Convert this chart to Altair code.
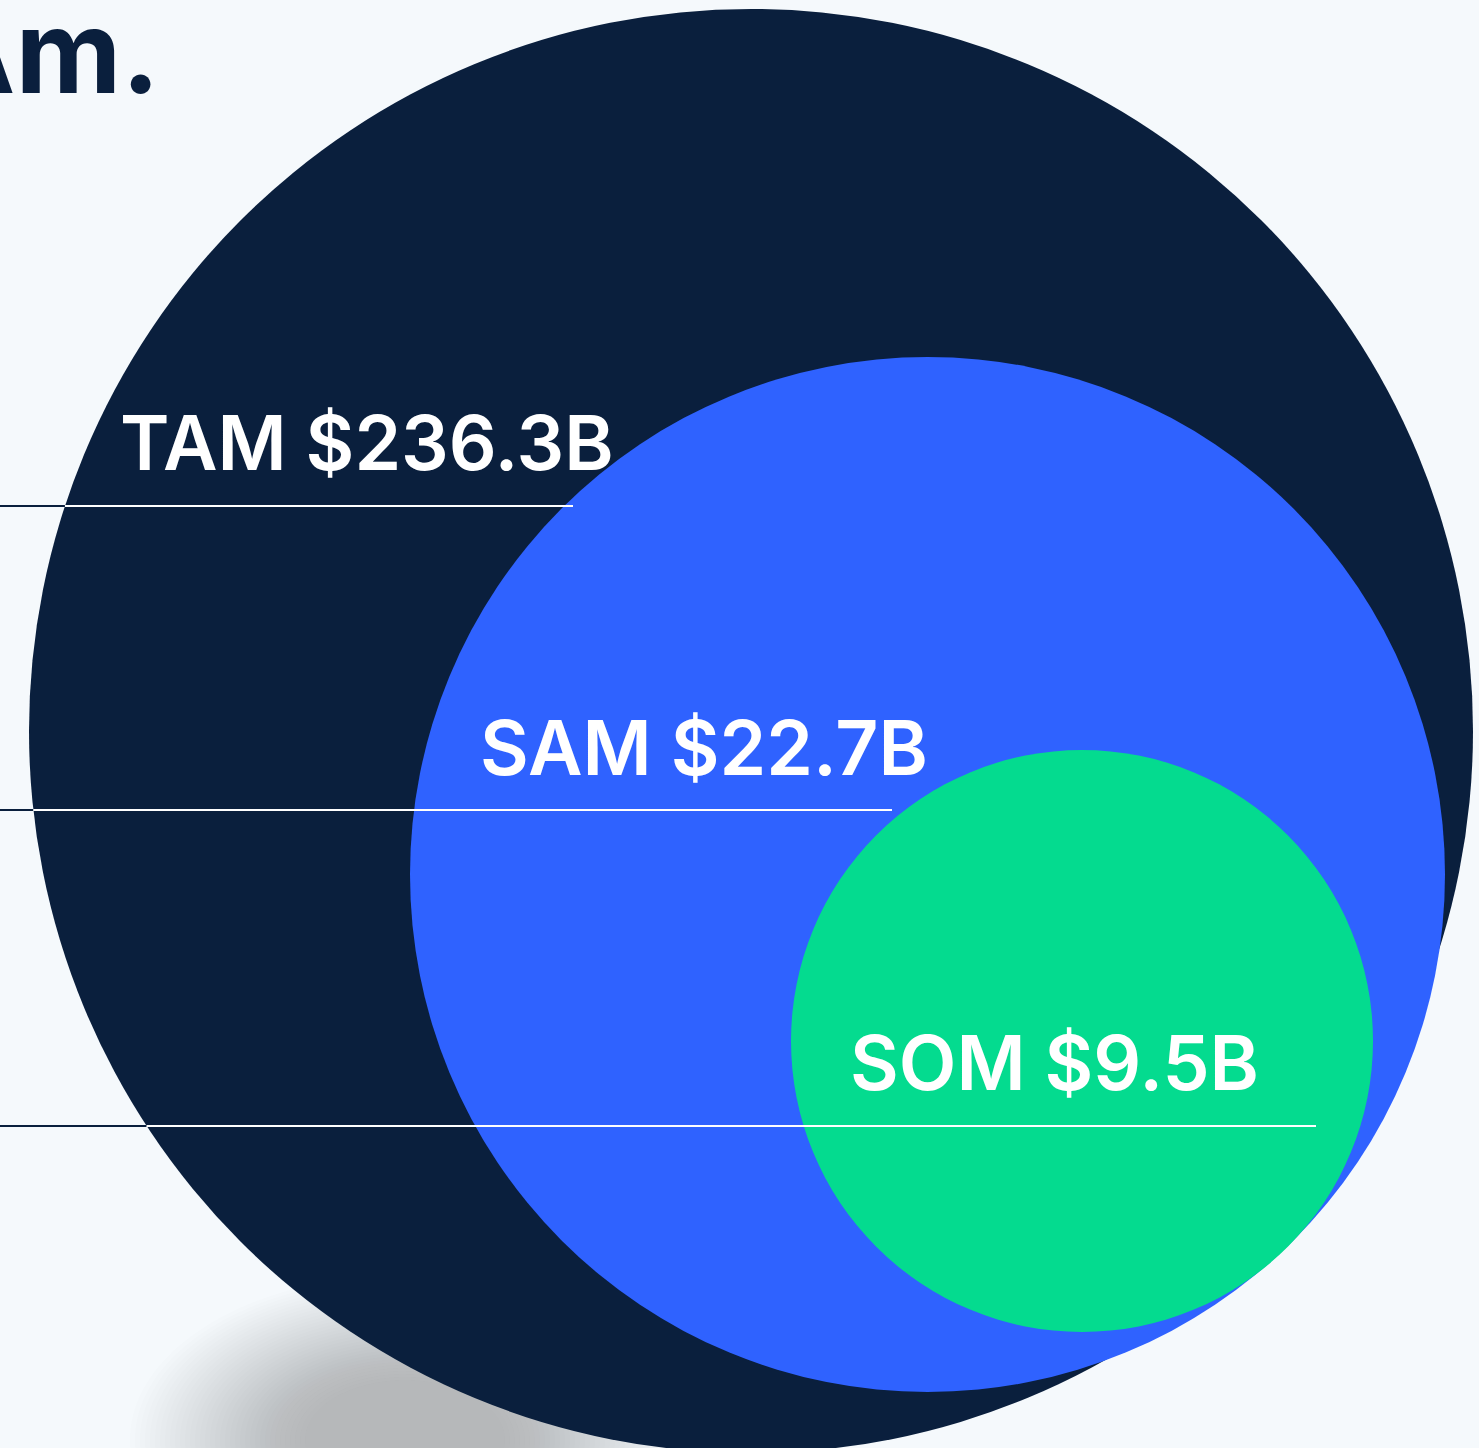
import math
import altair as alt
import pandas as pd

W, H = 1479, 1448

# Market segments
segments = ["TAM", "SAM", "SOM"]
values_b = [236.3, 22.7, 9.5]
colors = ["#0A1F3D", "#2F62FF", "#04DB8F"]

# Circle geometry (chart coordinates, pixels)
circle_cx = [751, 927.5, 1082]
circle_cy = [731, 874.5, 1041]
circle_r = [722, 517.5, 291]

# Labels and leader lines
label_x = [120, 480, 850]
label_y = [470, 775, 1090]
line_y = [506, 810, 1126]
line_end = [573, 892, 1316]

title_text = "Am."

bg = "#F5F9FC"
navy = "#0A1F3D"

xs = alt.Scale(domain=[0, W], nice=False, zero=False)
ys = alt.Scale(domain=[0, H], nice=False, zero=False, reverse=True)

# Vega circle symbol: diameter = sqrt(size)
circles = pd.DataFrame({
    "seg": segments,
    "cx": circle_cx,
    "cy": circle_cy,
    "area": [(2 * r) ** 2 for r in circle_r],
    "color": colors,
    "order": [0, 1, 2],
})

# soft elliptical shadow under the big circle
shadow_r = list(range(275, 95, -5))
shadow = pd.DataFrame({
    "cx": [405] * len(shadow_r),
    "cy": [1440] * len(shadow_r),
    "area": [(2 * r) ** 2 for r in shadow_r],
})
ellipse_path = "M-1,0 A1,0.6 0 1,0 1,0 A1,0.6 0 1,0 -1,0 Z"

labels = pd.DataFrame({
    "x": label_x,
    "y": label_y,
    "text": [f"{s} ${v}B" for s, v in zip(segments, values_b)],
})

big_cx, big_cy, big_r = circle_cx[0], circle_cy[0], circle_r[0]
edge = [big_cx - math.sqrt(big_r ** 2 - (y - big_cy) ** 2) for y in line_y]
lines_dark = pd.DataFrame({"x": [0] * 3, "x2": edge, "y": line_y})
lines_white = pd.DataFrame({"x": edge, "x2": line_end, "y": line_y})

title = pd.DataFrame({"x": [160], "y": [93], "text": [title_text]})

base_x = lambda f: alt.X(f, type="quantitative", scale=xs, axis=None)
base_y = lambda f: alt.Y(f, type="quantitative", scale=ys, axis=None)

shadow_layer = alt.Chart(shadow).mark_point(
    shape=ellipse_path, filled=True, color="#80868f", opacity=0.014,
    strokeWidth=0, clip=False
).encode(
    x=base_x("cx"), y=base_y("cy"), size=alt.Size("area:Q", scale=None)
)

dark_lines = alt.Chart(lines_dark).mark_rule(color=navy, strokeWidth=2).encode(
    x=base_x("x"), x2="x2", y=base_y("y")
)

circle_layer = alt.Chart(circles).mark_circle(opacity=1, clip=False).encode(
    x=base_x("cx"), y=base_y("cy"),
    size=alt.Size("area:Q", scale=None),
    color=alt.Color("color:N", scale=None),
    order=alt.Order("order:Q"),
)

white_lines = alt.Chart(lines_white).mark_rule(color="#FFFFFF", strokeWidth=2).encode(
    x=base_x("x"), x2="x2", y=base_y("y")
)

label_layer = alt.Chart(labels).mark_text(
    align="left", baseline="alphabetic", font="Inter", fontSize=75,
    fontWeight=600, color="#FFFFFF"
).encode(x=base_x("x"), y=base_y("y"), text="text:N")

title_layer = alt.Chart(title).mark_text(
    align="right", baseline="alphabetic", font="Inter", fontSize=116,
    fontWeight=700, color=navy
).encode(x=base_x("x"), y=base_y("y"), text="text:N")

chart = alt.layer(
    shadow_layer, dark_lines, circle_layer, white_lines, label_layer, title_layer
).properties(
    width=W, height=H, background=bg, padding=0,
    autosize=alt.AutoSizeParams(type="none"),
).configure_view(stroke=None)

chart.save("out.html", embed_options={"renderer": "svg", "actions": False})
